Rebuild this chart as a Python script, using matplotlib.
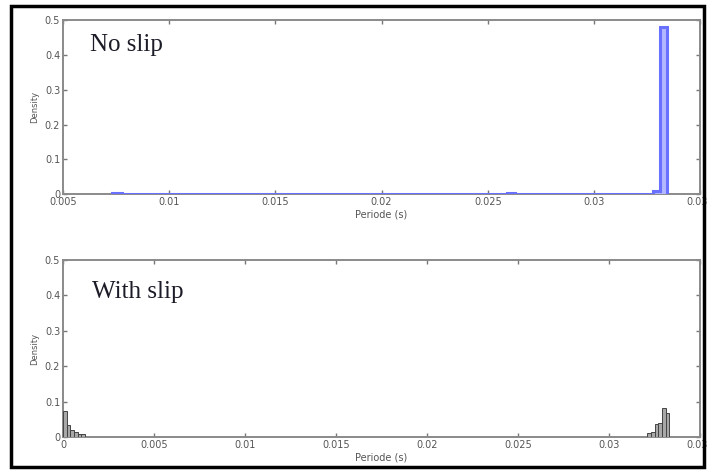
import matplotlib
matplotlib.use('Agg')
import matplotlib.pyplot as plt
from matplotlib.patches import Rectangle

# Data (histogram bin edges and densities)
noslip_edges = [0.0073, 0.0078, 0.0259, 0.0263, 0.0328, 0.0331, 0.03345]
noslip_density = [0.004, 0.0, 0.004, 0.0, 0.01, 0.48]

slip_left_edges = [0.0, 0.0002, 0.0004, 0.0006, 0.0008, 0.0010, 0.0012]
slip_left_density = [0.075, 0.035, 0.02, 0.015, 0.01, 0.008]
slip_right_edges = [0.0321, 0.0323, 0.0325, 0.0327, 0.0329, 0.0331, 0.0333]
slip_right_density = [0.012, 0.015, 0.038, 0.04, 0.082, 0.068]

top_xticks = [0.005, 0.01, 0.015, 0.02, 0.025, 0.03, 0.035]
bot_xticks = [0, 0.005, 0.01, 0.015, 0.02, 0.025, 0.03, 0.035]
yticks = [0, 0.1, 0.2, 0.3, 0.4, 0.5]

fig = plt.figure(figsize=(7.08, 4.70), dpi=100)

# black frame round the whole picture
fig.patches.append(Rectangle((0.016, 0.006), 0.979, 0.982, transform=fig.transFigure,
                             fill=False, edgecolor='black', linewidth=2.5))

ax1 = fig.add_axes([0.089, 0.587, 0.900, 0.370])
ax2 = fig.add_axes([0.089, 0.070, 0.900, 0.377])


def style(ax, xticks, xlim):
    ax.set_xlim(*xlim)
    ax.set_ylim(0, 0.5)
    ax.set_xticks(xticks)
    ax.set_xticklabels([f'{t:g}' for t in xticks])
    ax.set_yticks(yticks)
    ax.set_yticklabels([f'{t:g}' for t in yticks])
    ax.tick_params(direction='in', top=True, right=True, length=3, width=1,
                   color='#777777', labelsize=7, labelcolor='#555555', pad=2)
    for s in ax.spines.values():
        s.set_color('#8a8a8a')
        s.set_linewidth(1.4)
    ax.set_ylabel('Density', fontsize=6, color='#555555', labelpad=4)
    ax.set_xlabel('Periode (s)', fontsize=7, color='#555555', labelpad=2)


# Top: no slip
ax1.stairs(noslip_density, noslip_edges, fill=True, facecolor='#b3b8ff',
           edgecolor='none', zorder=3)
ax1.stairs(noslip_density, noslip_edges, color='#6a70ff', linewidth=2.2, zorder=4)
style(ax1, top_xticks, (0.005, 0.035))
ax1.text(0.042, 0.86, 'No slip', transform=ax1.transAxes, fontsize=18,
         family='Liberation Serif', color='#1c1c28', va='center')

# Bottom: with slip
for edges, dens in [(slip_left_edges, slip_left_density),
                    (slip_right_edges, slip_right_density)]:
    ax2.bar(edges[:-1], dens, width=[b - a for a, b in zip(edges[:-1], edges[1:])],
            align='edge', color='#a8a8a8', edgecolor='#444444', linewidth=0.7, zorder=3)
style(ax2, bot_xticks, (0, 0.035))
ax2.text(0.045, 0.82, 'With slip', transform=ax2.transAxes, fontsize=18,
         family='Liberation Serif', color='#1c1c28', va='center')

plt.savefig('out.png', dpi=100)
